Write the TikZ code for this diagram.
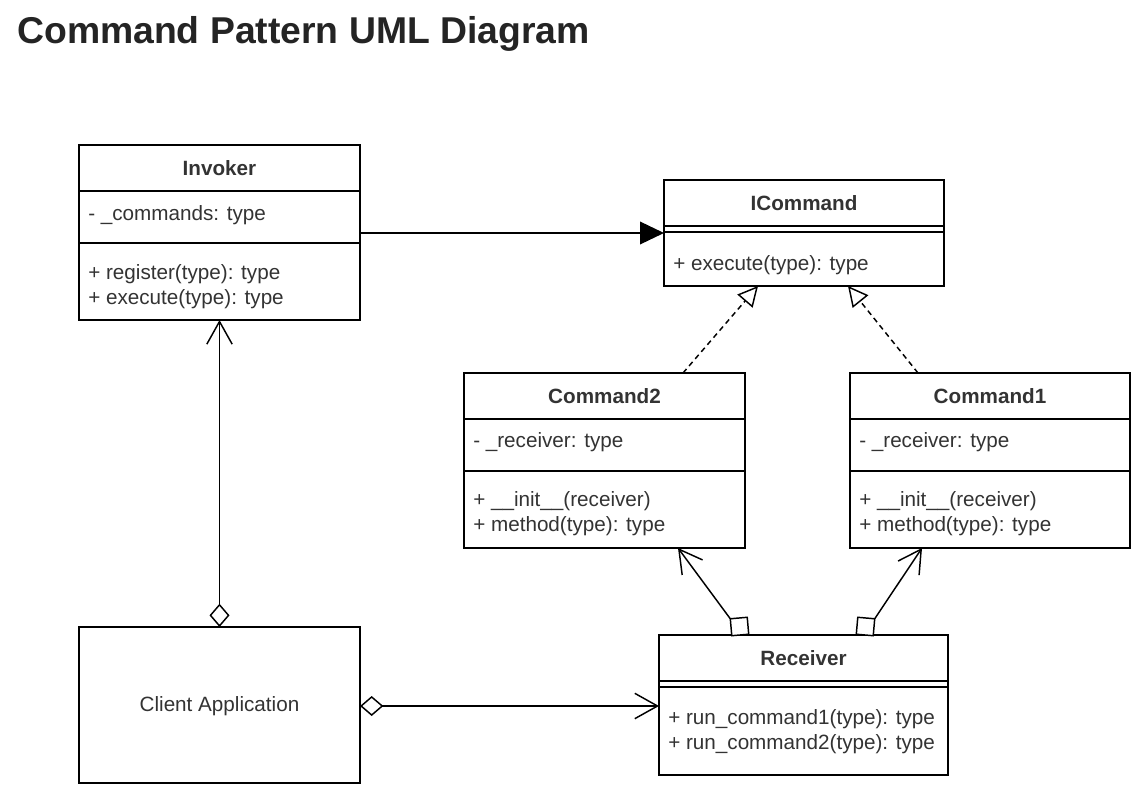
\documentclass[tikz,border=0pt]{standalone}
\usepackage{fontspec}
\setmainfont{Liberation Sans}
\usetikzlibrary{arrows.meta,calc}
\definecolor{txt}{HTML}{333333}
\definecolor{ttl}{HTML}{242424}
\begin{document}
\begin{tikzpicture}[x=0.75pt,y=-0.75pt,
  box/.style={draw=black,line width=1.1pt,inner sep=0pt,outer sep=0pt,rectangle},
  cname/.style={text=txt,font=\fontsize{15.5}{18}\selectfont\bfseries,inner sep=0pt},
  member/.style={text=txt,font=\fontsize{15.5}{18}\selectfont,anchor=west,inner sep=0pt},
  sep/.style={line width=1.1pt},
  conn/.style={line width=1.1pt,draw=black},
  openarrow/.style={-{Straight Barb[length=17pt,width=19pt]}},
  aggarrow/.style={{Diamond[open,length=17.5pt,width=15pt,fill=white]}-{Straight Barb[length=17pt,width=19pt]}},
  sq/.style={draw=black,fill=white,line width=1.1pt,rectangle,inner sep=0pt,outer sep=0pt,minimum size=17*0.75pt},
  lbl/.style={text=txt,font=\fontsize{15.5}{18}\selectfont,inner sep=0pt}]
\useasboundingbox (0,0) rectangle (1143,799);
\fill[white] (0,0) rectangle (1143,799);
% title
\node[anchor=west,text=ttl,inner sep=0pt,font=\fontsize{28}{33}\selectfont\bfseries] (title) at (17,34) {Command Pattern UML Diagram};

% Invoker
\node[box,minimum width=281*0.75pt,minimum height=175*0.75pt] (invoker) at (219.5,232.5) {};
\node[cname] (invokerT) at (219.5,168) {Invoker};
\draw[sep] (79,191) -- (360,191);
\draw[sep] (79,243) -- (360,243);
\node[member] (invA) at (88,215) {- \_commands: type};
\node[member] (invM1) at (88,274) {+ register(type): type};
\node[member] (invM2) at (88,299) {+ execute(type): type};

% ICommand
\node[box,minimum width=280*0.75pt,minimum height=106*0.75pt] (icmd) at (804,233) {};
\node[cname] (icmdT) at (804,203) {ICommand};
\draw[sep] (664,226) -- (944,226);
\draw[sep] (664,232) -- (944,232);
\node[member] (icmdM) at (673,265) {+ execute(type): type};

% Command2
\node[box,minimum width=281*0.75pt,minimum height=175*0.75pt] (cmd2) at (604.5,460.5) {};
\node[cname] (cmd2T) at (604.5,396) {Command2};
\draw[sep] (464,419) -- (745,419);
\draw[sep] (464,471) -- (745,471);
\node[member] (c2A) at (473,442) {- \_receiver: type};
\node[member] (c2M1) at (473,501) {+ \_\_init\_\_(receiver)};
\node[member] (c2M2) at (473,526) {+ method(type): type};

% Command1
\node[box,minimum width=280*0.75pt,minimum height=175*0.75pt] (cmd1) at (990,460.5) {};
\node[cname] (cmd1T) at (990,396) {Command1};
\draw[sep] (850,419) -- (1130,419);
\draw[sep] (850,471) -- (1130,471);
\node[member] (c1A) at (859,442) {- \_receiver: type};
\node[member] (c1M1) at (859,501) {+ \_\_init\_\_(receiver)};
\node[member] (c1M2) at (859,526) {+ method(type): type};

% Receiver
\node[box,minimum width=289*0.75pt,minimum height=140*0.75pt] (recv) at (803.5,705) {};
\node[cname] (recvT) at (803.5,658) {Receiver};
\draw[sep] (659,681) -- (948,681);
\draw[sep] (659,687) -- (948,687);
\node[member] (rM1) at (668,719) {+ run\_command1(type): type};
\node[member] (rM2) at (668,744) {+ run\_command2(type): type};

% Client
\node[box,minimum width=281*0.75pt,minimum height=156*0.75pt] (client) at (219.5,705) {};
\node[lbl] (clientT) at (219.5,706) {Client Application};

% connectors
\draw[conn,-{Triangle[length=18pt,width=17pt]}] (invoker.east |- 0,233) -- (icmd.west |- 0,233);
\draw[conn,dashed,dash pattern=on 4pt off 3pt,-{Triangle[open,length=15pt,width=15pt,fill=white]}]
  (cmd2.north -| 683,0) -- (icmd.south -| 758,0);
\draw[conn,dashed,dash pattern=on 4pt off 3pt,-{Triangle[open,length=15pt,width=15pt,fill=white]}]
  (cmd1.north -| 918,0) -- (icmd.south -| 848,0);
\draw[conn,aggarrow] (client.north) -- (invoker.south);
\draw[conn,aggarrow] (client.east |- 0,706) -- (recv.west |- 0,706);
% square ends
\node[sq,rotate=5] (sqL) at (739.5,626.5) {};
\node[sq,rotate=-5] (sqR) at (865.5,626.5) {};
\draw[conn,openarrow] (sqL.north west) -- (cmd2.south -| 678,0);
\draw[conn,openarrow] (sqR.north east) -- (cmd1.south -| 922,0);
\end{tikzpicture}
\end{document}
